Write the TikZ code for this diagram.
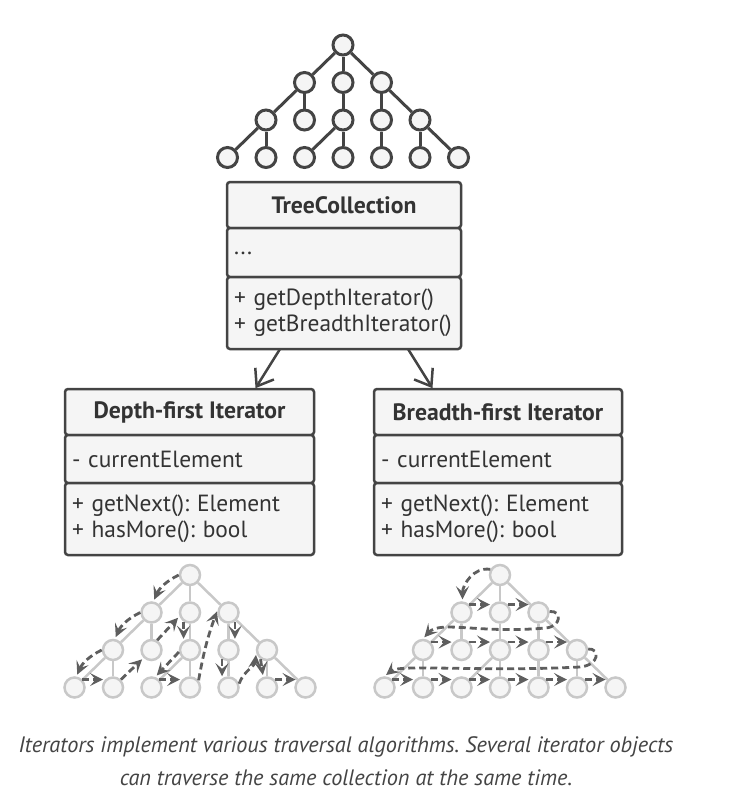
\documentclass[tikz,border=0pt]{standalone}
\usepackage{fontspec}
\setmainfont{PT Sans}
\usetikzlibrary{arrows.meta, positioning}
\definecolor{umlLine}{RGB}{68,68,68}
\definecolor{umlFill}{RGB}{245,245,245}
\definecolor{umlText}{RGB}{51,51,51}
\definecolor{leafLine}{RGB}{200,200,200}
\definecolor{walkGray}{RGB}{94,94,94}

\tikzset{
  umlbox/.style={draw=umlLine, fill=umlFill, line width=2.5pt, rounded corners=3pt, outer sep=0pt, text=umlText, font=\fontsize{23.4}{26}\selectfont},
  umlhead/.style={umlbox, minimum width=#1, minimum height=46pt, inner sep=0pt, font=\fontsize{23.7}{26}\selectfont\bfseries},
  umlpart/.style={umlbox, text width=#1, align=left, inner xsep=7pt, inner ysep=0pt},
  darknode/.style={circle, draw=umlLine, fill=umlFill, line width=3pt, minimum size=20pt, inner sep=0pt},
  darkedge/.style={draw=umlLine, line width=3pt},
  lightnode/.style={circle, draw=leafLine, fill=umlFill, line width=2.5pt, minimum size=20pt, inner sep=0pt},
  lightedge/.style={draw=leafLine, line width=2.5pt},
  walk/.style={draw=walkGray, line width=2.8pt, dash pattern=on 7pt off 4pt, -{Stealth[length=13pt, width=13pt, inset=5.5pt]}, shorten >=2pt},
  uses/.style={draw=umlLine, line width=2.5pt, -{Straight Barb[length=15pt, width=22pt]}, shorten >=1pt},
}

% prefix, centre x, top y, node style, edge style
\newcommand{\drawtree}[5]{%
  \foreach \nm/\col/\lvl in {r/0/0, a/-1/1, b/0/1, c/1/1, d/-2/2, e/-1/2, f/0/2, g/1/2, h/2/2,
                             i/-3/3, j/-2/3, k/-1/3, l/0/3, m/1/3, n/2/3, o/3/3}
    \node[#4] (#1\nm) at ({#2+\col*38.5},{-#3-\lvl*37.5}) {};
  \foreach \src/\dst in {r/a, r/b, r/c, a/d, a/e, b/f, c/g, c/h, d/i, d/j, f/k, f/l, g/m, h/n, h/o}
    \draw[#5] (#1\src) -- (#1\dst);
}

\begin{document}
\frenchspacing
\hyphenpenalty=10000
\begin{tikzpicture}[x=1pt, y=1pt]
  \useasboundingbox (0,0) rectangle (752,-798);

  % collection tree
  \drawtree{T}{343}{45}{darknode}{darkedge}

  % TreeCollection
  \node[umlhead=234pt] at (344,-205) (tc) {TreeCollection};
  \node[umlpart=220pt, minimum height=49pt, below=0pt of tc] (tcattr) {\raisebox{-5pt}{...}};
  \node[umlpart=220pt, minimum height=72pt, below=0pt of tcattr] (tcops) {\raisebox{-3pt}{+ getDepthIterator()}\\\raisebox{-3pt}{+ getBreadthIterator()}};

  % iterators
  \node[umlhead=249pt] at (189.5,-412) (dfi) {Depth-first Iterator};
  \node[umlpart=235pt, minimum height=48pt, below=0pt of dfi] (dfiattr) {- currentElement};
  \node[umlpart=235pt, minimum height=72pt, below=0pt of dfiattr] (dfiops) {+ getNext(): Element\\+ hasMore(): bool};

  \node[umlhead=248pt] at (498,-412) (bfi) {Breadth-first Iterator};
  \node[umlpart=234pt, minimum height=48pt, below=0pt of bfi] (bfiattr) {- currentElement};
  \node[umlpart=234pt, minimum height=72pt, below=0pt of bfiattr] (bfiops) {+ getNext(): Element\\+ hasMore(): bool};

  \draw[uses] ([xshift=-64pt]tcops.south) -- ([xshift=65.5pt]dfi.north);
  \draw[uses] ([xshift=64pt]tcops.south) -- ([xshift=-65pt]bfi.north);

  % depth-first walk
  \drawtree{D}{190}{575}{lightnode}{lightedge}
  \draw[walk] (Dr.180) to[bend right=20] (Da.80);
  \draw[walk] (Da.180) to[bend right=20] (Dd.80);
  \draw[walk] (Dd.180) to[bend right=20] (Di.80);
  \draw[walk] (Di.45) -- (Dj.135);
  \draw[walk] (Dj.45) -- (De.225);
  \draw[walk] (De.60) -- (Db.200);
  \draw[walk] (Db.235) -- (Df.125);
  \draw[walk] (Df.190) -- (Dk.70);
  \draw[walk] (Dk.45) -- (Dl.135);
  \draw[walk] (Dl.40) to[out=80, in=250] (Dc.165);
  \draw[walk] (Dc.305) -- (Dg.55);
  \draw[walk] (Dg.235) -- (Dm.125);
  \draw[walk] (Dm.20) to[out=70, in=-95] (Dh.195);
  \draw[walk] (Dh.235) -- (Dn.110);
  \draw[walk] (Dn.45) -- (Do.135);

  % breadth-first walk
  \drawtree{B}{500}{575}{lightnode}{lightedge}
  \draw[walk] (Br.150) to[out=170, in=90] (Ba.85);
  \foreach \src/\dst in {a/b, b/c, d/e, e/f, f/g, g/h, i/j, j/k, k/l, l/m, m/n, n/o}
    \draw[walk] (B\src.45) -- (B\dst.135);
  \draw[walk] (Bc.5) .. controls (562,-610) and (562,-627) .. (545,-628)
                     .. controls (480,-634) and (440,-620) .. (Bd.north);
  \draw[walk] (Bh.5) .. controls (600,-648) and (600,-665) .. (580,-667)
                     .. controls (480,-672) and (400,-664) .. (Bi.north);

  % caption
  \node[align=center, text=umlLine, font=\itshape\fontsize{22.3}{33}\selectfont] at (346,-761) (caption)
    {Iterators implement various traversal algorithms. Several iterator objects\\can traverse the same collection at the same time.};
\end{tikzpicture}
\end{document}
